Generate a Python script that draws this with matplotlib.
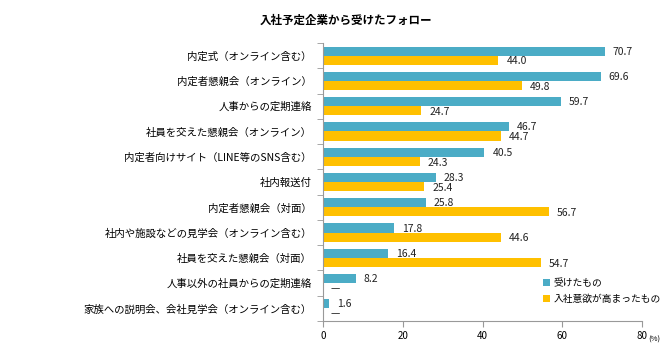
import matplotlib
matplotlib.use("Agg")
import matplotlib.pyplot as plt
import numpy as np

plt.rcParams['font.family'] = ['Noto Sans CJK JP', 'DejaVu Sans']

categories = [
    "内定式（オンライン含む）",
    "内定者懇親会（オンライン）",
    "人事からの定期連絡",
    "社員を交えた懇親会（オンライン）",
    "内定者向けサイト（LINE等のSNS含む）",
    "社内報送付",
    "内定者懇親会（対面）",
    "社内や施設などの見学会（オンライン含む）",
    "社員を交えた懇親会（対面）",
    "人事以外の社員からの定期連絡",
    "家族への説明会、会社見学会（オンライン含む）",
]
received = [70.7, 69.6, 59.7, 46.7, 40.5, 28.3, 25.8, 17.8, 16.4, 8.2, 1.6]
motivated = [44.0, 49.8, 24.7, 44.7, 24.3, 25.4, 56.7, 44.6, 54.7, None, None]
series_names = ["受けたもの", "入社意欲が高まったもの"]
xticks = [0, 20, 40, 60, 80]

c1 = "#4BACC6"
c2 = "#FFC000"

fig = plt.figure(figsize=(6.7, 3.5), dpi=100)
ax = fig.add_axes([323/670, 1-321/350, (642-323)/670, (321-43)/350])

n = len(categories)
y = np.arange(n)
h = 0.36
ax.barh(y - h/2, received, height=h, color=c1, label=series_names[0])
mv = [v if v is not None else 0 for v in motivated]
ax.barh(y + h/2, mv, height=h, color=c2, label=series_names[1])

for i, v in enumerate(received):
    ax.text(v + 2.0, i - h/2 + 0.02, f"{v:.1f}", va="center", ha="left", fontsize=7.5, color="#222222")
for i, v in enumerate(motivated):
    if v is None:
        ax.text(2.0, i + h/2 + 0.05, "—", va="center", ha="left", fontsize=7.5, color="#222222")
    else:
        ax.text(v + 2.0, i + h/2 + 0.05, f"{v:.1f}", va="center", ha="left", fontsize=7.5, color="#222222")

ax.set_xlim(0, 80)
ax.set_ylim(n - 0.5, -0.5)
ax.set_xticks(xticks)
ax.set_xticklabels([str(t) for t in xticks], fontsize=7)
ax.set_yticks(y)
ax.set_yticklabels(categories, fontsize=7.5)
ax.tick_params(axis='y', length=0, pad=8)
ax.set_yticks(np.arange(-0.5, n, 1), minor=True)
ax.tick_params(axis='y', which='minor', length=4, color="#999999", direction='out')
ax.tick_params(axis='x', length=4, color="#999999", direction='out', pad=3)

for s in ['top', 'right']:
    ax.spines[s].set_visible(False)
for s in ['left', 'bottom']:
    ax.spines[s].set_color("#999999")
    ax.spines[s].set_linewidth(0.8)

fig.text(648/670, 1-340/350, "(%)", fontsize=5.5, ha="left", va="center")

fig.text(346/670, 1-20/350, "入社予定企業から受けたフォロー", fontsize=8.3, fontweight="bold", ha="center", va="center")

ax.legend(loc="upper left", bbox_to_anchor=((538-323)/(642-323), 1-(273-43)/(321-43)),
          frameon=False, fontsize=7.0, handlelength=0.7, handleheight=0.7,
          handletextpad=0.4, labelspacing=0.6, borderpad=0)

fig.savefig("out.png", dpi=100)
